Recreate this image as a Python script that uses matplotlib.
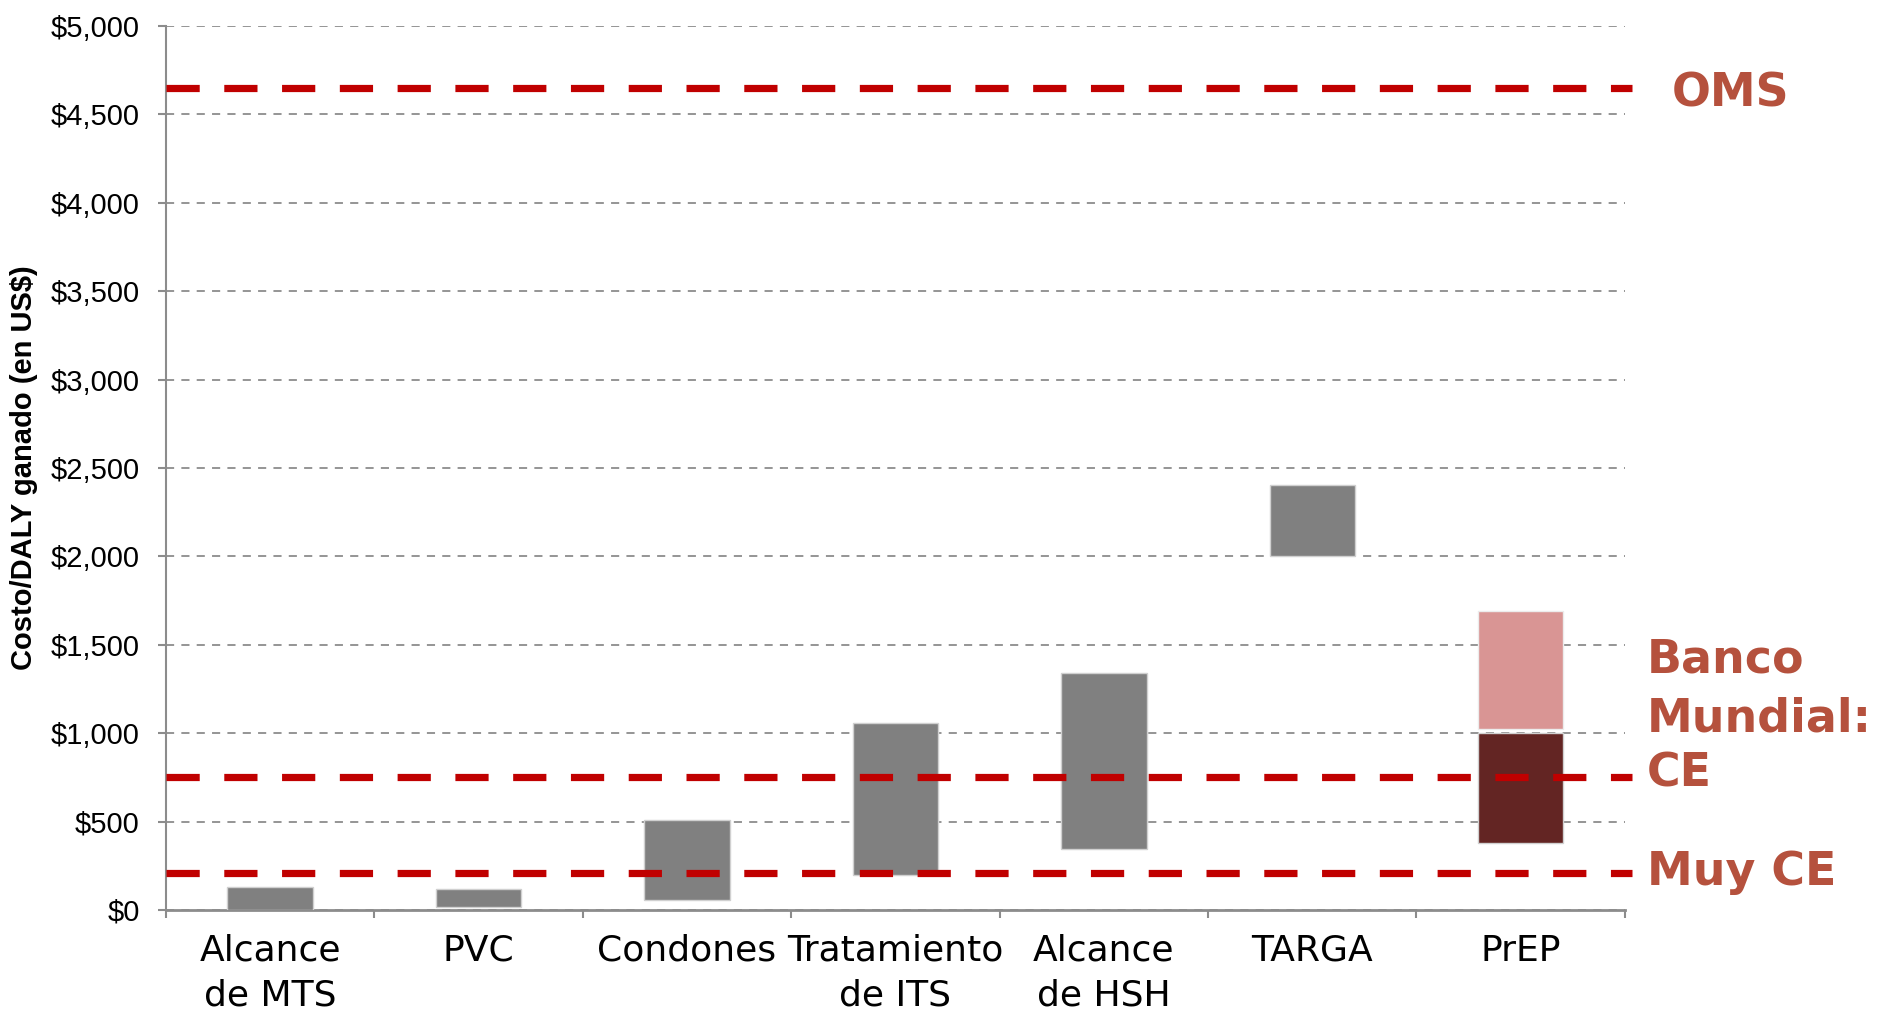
import matplotlib.pyplot as plt
import matplotlib.transforms as mtransforms

# intervenciones y rangos de costo por DALY (US$)
categorias = ["Alcance\nde MTS", "PVC", "Condones", "Tratamiento\nde ITS",
              "Alcance\nde HSH", "TARGA", "PrEP"]
costo_min = [0, 15, 55, 200, 345, 2000, 380]
costo_max = [130, 120, 510, 1060, 1340, 2405, 1000]

# tramo superior de PrEP (sobre el umbral de CE)
prep_sup_min = 1025
prep_sup_max = 1690

# umbrales de costo-efectividad
umbral_oms = 4650
umbral_ce = 750
umbral_muy_ce = 210

yticks = list(range(0, 5001, 500))
ytick_labels = [f"${v:,}" for v in yticks]

gris = "#808080"
rojo = "#C00000"
ladrillo = "#B5513D"

fig = plt.figure(figsize=(18.77, 10.13), dpi=100)
ax = fig.add_axes([0.0884, 0.1017, 0.7773, 0.8726])

x = [i + 0.5 for i in range(len(categorias))]
ancho = 0.41

colores = [gris] * 6 + ["#632523"]
alturas = [hi - lo for lo, hi in zip(costo_min, costo_max)]
ax.bar(x, alturas, bottom=costo_min, width=ancho, color=colores,
       edgecolor="#d0d0d0", linewidth=1, zorder=3)
ax.bar(x[-1], prep_sup_max - prep_sup_min, bottom=prep_sup_min, width=ancho,
       color="#D99594", edgecolor="#ececec", linewidth=1, zorder=3)

# líneas de umbral
for y in (umbral_oms, umbral_ce, umbral_muy_ce):
    ax.axhline(y, xmin=0, xmax=1.005, color=rojo, lw=5.2,
               dashes=(4.6, 3.4), clip_on=False, zorder=4)

ax.set_xlim(0, 7)
ax.set_ylim(0, 5000)
ax.set_yticks(yticks)
ax.set_yticklabels(ytick_labels, fontsize=21, family="Liberation Sans")
ax.set_xticks(range(8))
ax.set_xticklabels([])
ax.set_xticks(x, minor=True)
ax.set_xticklabels(categorias, minor=True, fontsize=26, family="DejaVu Sans",
                   linespacing=1.4)
ax.tick_params(axis="x", which="major", direction="out", length=6,
               width=1.5, color="#8c8c8c")
ax.tick_params(axis="x", which="minor", length=0, pad=17)
ax.tick_params(axis="y", direction="out", length=6, width=1.5,
               color="#8c8c8c", pad=13)

ax.grid(axis="y", color="#8c8c8c", lw=1.3, linestyle=(0, (4.5, 4)), zorder=0)
for s in ("top", "right"):
    ax.spines[s].set_visible(False)
ax.spines["left"].set_color("#8c8c8c")
ax.spines["left"].set_linewidth(1.5)
ax.spines["bottom"].set_color("#8c8c8c")
ax.spines["bottom"].set_linewidth(2)

ax.set_ylabel("Costo/DALY ganado (en US$)", fontsize=21, fontweight="bold",
              family="Liberation Sans")
ax.yaxis.set_label_coords(-0.088, 0.5)

# etiquetas de los umbrales a la derecha
trans = mtransforms.blended_transform_factory(ax.transAxes, ax.transData)
estilo = dict(transform=trans, fontsize=33, fontweight="bold",
              color=ladrillo, family="DejaVu Sans", va="baseline",
              ha="left", clip_on=False)
ax.text(1.032, 4546, "OMS", **estilo)
ax.text(1.015, 1341, "Banco", **estilo)
ax.text(1.015, 1009, "Mundial:", **estilo)
ax.text(1.015, 698, "CE", **estilo)
ax.text(1.015, 141, "Muy CE", **estilo)

fig.savefig("out.png", dpi=100)
